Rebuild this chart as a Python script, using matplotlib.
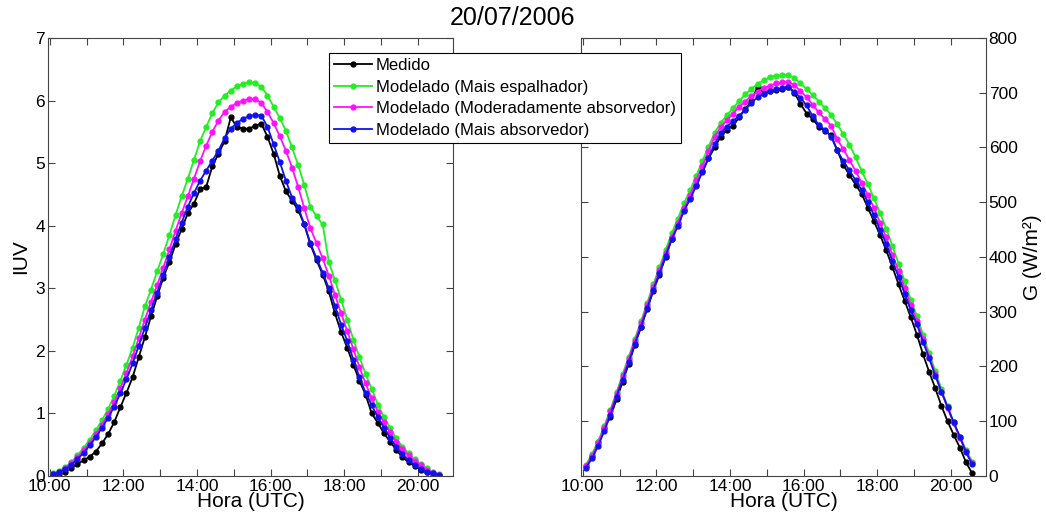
import numpy as np
import matplotlib
matplotlib.use('Agg')
import matplotlib.pyplot as plt
from matplotlib.ticker import FixedLocator, FuncFormatter

plt.rcParams['font.family'] = ['Liberation Sans', 'DejaVu Sans']

#
# data: 10 min samples, 10:05 .. 20:35 UTC
#
hora = 10 + 5 / 60 + np.arange(64) / 6.0

iuv_med = [0.01, 0.03, 0.07, 0.13, 0.19, 0.25, 0.31, 0.39, 0.52, 0.67,
           0.86, 1.10, 1.33, 1.58, 1.90, 2.22, 2.55, 2.87, 3.17, 3.42,
           3.70, 3.95, 4.20, 4.35, 4.58, 4.62, 4.95, 5.15, 5.35, 5.73,
           5.58, 5.55, 5.55, 5.60, 5.63, 5.42, 5.15, 4.80, 4.55, 4.40,
           4.25, 4.02, 3.70, 3.45, 3.22, 2.95, 2.60, 2.30, 2.05, 1.78,
           1.52, 1.30, 1.00, 0.85, 0.68, 0.55, 0.42, 0.30, 0.22, 0.16,
           0.10, 0.06, 0.03, 0.01]
iuv_esp = [0.04, 0.08, 0.14, 0.22, 0.33, 0.45, 0.58, 0.73, 0.89, 1.07,
           1.28, 1.52, 1.78, 2.05, 2.37, 2.71, 2.98, 3.27, 3.55, 3.85,
           4.17, 4.47, 4.75, 5.05, 5.35, 5.58, 5.80, 5.97, 6.08, 6.16,
           6.23, 6.27, 6.29, 6.28, 6.22, 6.08, 5.90, 5.72, 5.52, 5.25,
           4.97, 4.65, 4.30, 4.15, 4.02, 3.42, 3.13, 2.82, 2.50, 2.18,
           1.90, 1.63, 1.39, 1.14, 0.94, 0.77, 0.60, 0.47, 0.36, 0.27,
           0.19, 0.12, 0.06, 0.03]
iuv_mod = [0.03, 0.07, 0.13, 0.20, 0.30, 0.41, 0.53, 0.67, 0.82, 0.99,
           1.18, 1.40, 1.65, 1.91, 2.20, 2.50, 2.78, 3.05, 3.33, 3.62,
           3.92, 4.20, 4.47, 4.75, 5.03, 5.28, 5.50, 5.68, 5.82, 5.90,
           5.96, 6.00, 6.02, 6.02, 5.96, 5.82, 5.64, 5.43, 5.20, 4.93,
           4.62, 4.28, 3.96, 3.72, 3.48, 3.20, 2.90, 2.60, 2.32, 2.03,
           1.74, 1.48, 1.24, 1.03, 0.86, 0.70, 0.55, 0.43, 0.33, 0.24,
           0.17, 0.10, 0.05, 0.02]
iuv_abs = [0.03, 0.06, 0.11, 0.18, 0.27, 0.37, 0.49, 0.62, 0.77, 0.93,
           1.11, 1.32, 1.55, 1.80, 2.08, 2.37, 2.65, 2.93, 3.22, 3.50,
           3.78, 4.05, 4.30, 4.52, 4.72, 4.88, 5.04, 5.20, 5.40, 5.55,
           5.64, 5.71, 5.75, 5.77, 5.76, 5.58, 5.30, 5.02, 4.72, 4.45,
           4.30, 4.02, 3.72, 3.48, 3.25, 3.00, 2.72, 2.42, 2.16, 1.86,
           1.58, 1.33, 1.13, 0.94, 0.77, 0.61, 0.46, 0.35, 0.25, 0.17,
           0.11, 0.07, 0.04, 0.02]

g_med = [18, 36, 62, 88, 108, 140, 172, 205, 240, 272,
         305, 338, 368, 400, 433, 462, 485, 508, 532, 557,
         580, 600, 620, 632, 640, 655, 670, 685, 711, 700,
         703, 705, 707, 711, 700, 680, 662, 652, 638, 630,
         622, 595, 568, 550, 532, 515, 490, 465, 440, 412,
         382, 350, 320, 290, 258, 222, 190, 160, 128, 100,
         75, 52, 25, 5]
g_esp = [20, 40, 63, 91, 121, 153, 186, 218, 251, 283,
         316, 350, 381, 413, 443, 470, 498, 522, 548, 575,
         601, 627, 645, 659, 672, 685, 697, 707, 716, 723,
         728, 731, 733, 733, 727, 717, 707, 696, 684, 672,
         660, 642, 625, 605, 582, 557, 533, 507, 480, 452,
         420, 388, 356, 322, 292, 258, 224, 192, 158, 127,
         98, 72, 48, 26]
g_mod = [18, 37, 60, 88, 118, 150, 182, 214, 247, 279,
         312, 345, 376, 407, 436, 462, 489, 513, 540, 566,
         593, 620, 637, 650, 662, 674, 684, 694, 702, 709,
         713, 717, 719, 720, 714, 703, 692, 678, 664, 652,
         640, 615, 597, 577, 557, 535, 513, 490, 462, 436,
         404, 374, 344, 312, 284, 250, 218, 186, 154, 124,
         96, 70, 45, 24]
g_abs = [15, 32, 55, 82, 112, 145, 176, 208, 242, 273,
         306, 340, 370, 402, 432, 456, 484, 506, 530, 555,
         580, 607, 626, 638, 648, 658, 669, 681, 692, 698,
         703, 706, 708, 710, 702, 691, 677, 657, 641, 632,
         620, 595, 575, 558, 540, 522, 500, 476, 449, 424,
         392, 364, 333, 303, 277, 245, 215, 183, 154, 126,
         98, 72, 43, 22]

labels = ['Medido', 'Modelado (Mais espalhador)',
          'Modelado (Moderadamente absorvedor)', 'Modelado (Mais absorvedor)']
colors = ['black', '#22ee22', '#ff11ff', '#1111ee']

fig = plt.figure(figsize=(10.46, 5.24), dpi=100)
ax1 = fig.add_axes([0.0459, 0.0916, 0.3872, 0.8359])
ax2 = fig.add_axes([0.5554, 0.0916, 0.3872, 0.8359])

hfmt = FuncFormatter(lambda v, p: '%02d:00' % int(round(v)))

lines = []
for ax, series in ((ax1, [iuv_med, iuv_esp, iuv_mod, iuv_abs]),
                   (ax2, [g_med, g_esp, g_mod, g_abs])):
    for y, c, lab in zip(series, colors, labels):
        l, = ax.plot(hora, y, '-', marker='.', color=c, lw=1.3, ms=7, label=lab)
        if ax is ax1:
            lines.append(l)
    ax.set_xlim(9.95, 20.96)
    ax.xaxis.set_major_locator(FixedLocator([10, 12, 14, 16, 18, 20]))
    ax.xaxis.set_minor_locator(FixedLocator([11, 13, 15, 17, 19]))
    ax.xaxis.set_major_formatter(hfmt)
    ax.tick_params(which='both', direction='in', top=True, right=True,
                   left=True, labelsize=12.5, length=5, width=0.8, color='#444444', pad=2)
    ax.set_xlabel('Hora (UTC)', fontsize=15, labelpad=-1)
    for s in ax.spines.values():
        s.set_color('#444444')
        s.set_linewidth(0.8)

ax1.set_ylim(0, 7)
ax1.set_yticks(range(8))
ax1.set_ylabel('IUV', fontsize=15, labelpad=4)

ax2.set_ylim(0, 800)
ax2.set_yticks(range(0, 801, 100))
ax2.yaxis.tick_right()
ax2.yaxis.set_label_position('right')
ax2.tick_params(axis='y', which='both', left=True, right=True, direction='in')
ax2.set_ylabel('G (W/m²)', fontsize=15, labelpad=4)

fig.text(0.49, 0.965, '20/07/2006', ha='center', va='center', fontsize=18)

leg = fig.legend(handles=lines, loc='upper left', bbox_to_anchor=(0.3145, 0.899),
                 fontsize=12, frameon=True, fancybox=False, framealpha=1,
                 edgecolor='black', borderpad=0.3, labelspacing=0.4,
                 handlelength=2.3, handletextpad=0.2, borderaxespad=0)
leg.get_frame().set_linewidth(0.8)

fig.savefig('out.png', dpi=100)
